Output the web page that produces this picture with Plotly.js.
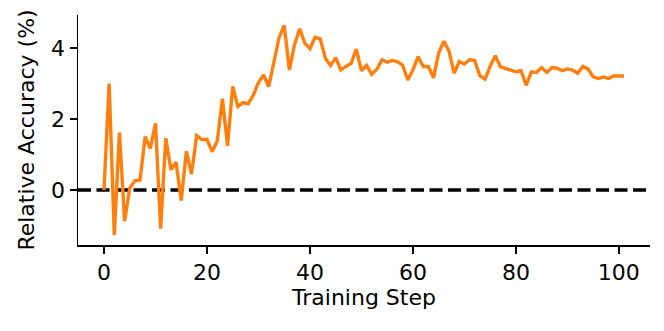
<!DOCTYPE html>
<html>
<head>
<meta charset="utf-8">
<script src="https://cdn.plot.ly/plotly-3.0.1.min.js"></script>
<style>
  html, body { margin: 0; padding: 0; background: #fff; }
  #chart { width: 664px; height: 331px; }
</style>
</head>
<body>
<div id="chart"></div>
<script>
// relative accuracy (%) per training step
const steps = [];
for (let i = 0; i <= 101; i++) steps.push(i);

const relAcc = [
    0.00, 3.00, -1.27, 1.62, -0.88, 0.05, 0.26, 0.28, 1.50, 1.17,
    1.88, -1.09, 1.46, 0.57, 0.78, -0.30, 1.09, 0.45, 1.53, 1.42,
    1.43, 1.08, 1.38, 2.57, 1.24, 2.92, 2.35, 2.46, 2.43, 2.67,
    3.03, 3.24, 2.91, 3.57, 4.29, 4.64, 3.38, 4.09, 4.54, 4.14,
    3.98, 4.30, 4.26, 3.71, 3.51, 3.73, 3.38, 3.48, 3.57, 3.97,
    3.36, 3.51, 3.26, 3.40, 3.67, 3.60, 3.65, 3.61, 3.52, 3.10,
    3.38, 3.76, 3.48, 3.48, 3.16, 3.86, 4.19, 3.92, 3.29, 3.62,
    3.55, 3.67, 3.65, 3.22, 3.12, 3.48, 3.78, 3.47, 3.43, 3.38,
    3.33, 3.36, 2.95, 3.33, 3.31, 3.45, 3.31, 3.45, 3.43, 3.36,
    3.41, 3.38, 3.29, 3.48, 3.41, 3.19, 3.14, 3.18, 3.14, 3.21,
    3.21, 3.21
];

const baseline = 0;
const xTicks = [0, 20, 40, 60, 80, 100];
const yTicks = [0, 2, 4];

const font = { family: 'DejaVu Sans, sans-serif', size: 22, color: '#000' };

const accTrace = {
    x: steps,
    y: relAcc,
    type: 'scatter',
    mode: 'lines',
    line: { color: '#ff7f0e', width: 3.4 },
    hoverinfo: 'skip'
};

const layout = {
    width: 664,
    height: 331,
    margin: { l: 78, r: 14, t: 15, b: 86 },
    paper_bgcolor: '#fff',
    plot_bgcolor: '#fff',
    showlegend: false,
    font: font,
    xaxis: {
        range: [-5.05, 106.05],
        tickvals: xTicks,
        ticks: 'outside',
        ticklen: 7,
        tickwidth: 1.5,
        tickcolor: '#000',
        showline: true,
        linecolor: '#000',
        linewidth: 1.5,
        showgrid: false,
        zeroline: false,
        tickfont: font,
        title: { text: 'Training Step', font: font, standoff: 5 }
    },
    yaxis: {
        range: [-1.55, 4.93],
        tickvals: yTicks,
        ticks: 'outside',
        ticklen: 7,
        tickwidth: 1.5,
        tickcolor: '#000',
        showline: true,
        linecolor: '#000',
        linewidth: 1.5,
        showgrid: false,
        zeroline: false,
        tickfont: font,
        title: { text: 'Relative Accuracy (%)', font: font, standoff: 10 }
    },
    shapes: [{
        type: 'line',
        xref: 'paper', x0: 0, x1: 1,
        yref: 'y', y0: baseline, y1: baseline,
        line: { color: '#000', width: 3.3, dash: '13px,5.5px' },
        layer: 'below'
    }]
};

Plotly.newPlot('chart', [accTrace], layout, { displayModeBar: false, staticPlot: true });
</script>
</body>
</html>
